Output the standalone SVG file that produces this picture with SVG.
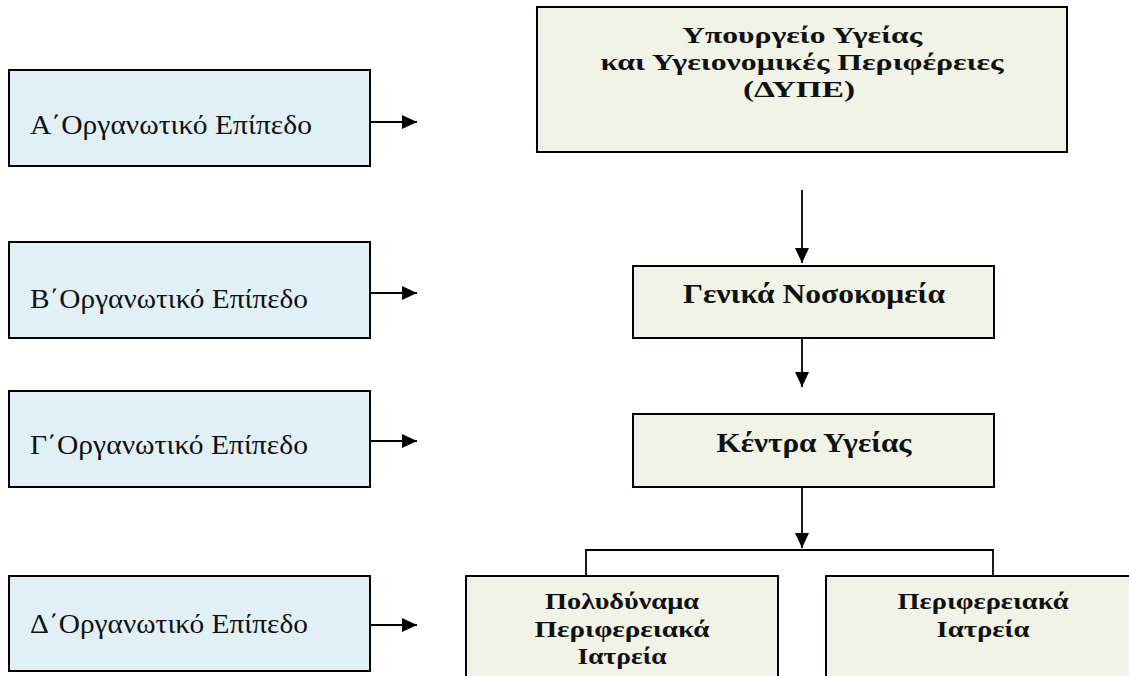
<svg xmlns="http://www.w3.org/2000/svg" width="1129" height="676" viewBox="0 0 1129 676">
<style>
.lvl{fill:#E1F0F6;stroke:#000;stroke-width:2}
.org{fill:#F0F3E6;stroke:#000;stroke-width:2}
.lt{font-family:"Liberation Serif","Times New Roman",serif;font-size:27px;fill:#111}
.bt{font-family:"Liberation Serif","Times New Roman",serif;font-size:28px;font-weight:bold;fill:#111;text-anchor:middle}
.bm{font-family:"Liberation Serif","Times New Roman",serif;font-size:24px;font-weight:bold;fill:#111;text-anchor:middle}
.con{stroke:#000;stroke-width:1.8;fill:none}
</style>
<defs>
<marker id="ah" markerUnits="userSpaceOnUse" markerWidth="16" markerHeight="15" refX="15" refY="7" orient="auto">
<path d="M0,0 L15,7 L0,14 z" fill="#000"/>
</marker>
</defs>
<rect width="1129" height="676" fill="#fff"/>
<g id="level-a"><rect class="lvl" x="9" y="70" width="361" height="96"/><text class="lt" x="30" y="134" textLength="282" lengthAdjust="spacingAndGlyphs">Α΄Οργανωτικό Επίπεδο</text></g>
<g id="level-b"><rect class="lvl" x="9" y="242" width="361" height="96"/><text class="lt" x="30" y="308" textLength="278" lengthAdjust="spacingAndGlyphs">Β΄Οργανωτικό Επίπεδο</text></g>
<g id="level-c"><rect class="lvl" x="9" y="391" width="361" height="96"/><text class="lt" x="30" y="454" textLength="278" lengthAdjust="spacingAndGlyphs">Γ΄Οργανωτικό Επίπεδο</text></g>
<g id="level-d"><rect class="lvl" x="9" y="576" width="361" height="95"/><text class="lt" x="30" y="633" textLength="278" lengthAdjust="spacingAndGlyphs">Δ΄Οργανωτικό Επίπεδο</text></g>
<g id="ministry"><rect class="org" x="537" y="7" width="530" height="145"/>
<text class="bm" x="802" y="43" textLength="240" lengthAdjust="spacingAndGlyphs">Υπουργείο Υγείας</text>
<text class="bm" x="802" y="70" textLength="403" lengthAdjust="spacingAndGlyphs">και Υγειονομικές Περιφέρειες</text>
<text class="bm" x="799" y="97" textLength="112" lengthAdjust="spacingAndGlyphs">(ΔΥΠΕ)</text></g>
<g id="hospitals"><rect class="org" x="633" y="266" width="361" height="72"/>
<text class="bt" x="814" y="303" textLength="262" lengthAdjust="spacingAndGlyphs">Γενικά Νοσοκομεία</text></g>
<g id="health-centres"><rect class="org" x="633" y="414" width="361" height="73"/>
<text class="bt" x="814" y="452" textLength="195" lengthAdjust="spacingAndGlyphs">Κέντρα Υγείας</text></g>
<g id="multi-clinics"><rect class="org" x="466" y="576" width="312" height="110"/>
<text class="bm" x="622" y="609" textLength="154" lengthAdjust="spacingAndGlyphs">Πολυδύναμα</text>
<text class="bm" x="622" y="637" textLength="175" lengthAdjust="spacingAndGlyphs">Περιφερειακά</text>
<text class="bm" x="622" y="664" textLength="89" lengthAdjust="spacingAndGlyphs">Ιατρεία</text></g>
<g id="regional-clinics"><rect class="org" x="826" y="576" width="320" height="110"/>
<text class="bm" x="983" y="609" textLength="171" lengthAdjust="spacingAndGlyphs">Περιφερειακά</text>
<text class="bm" x="983" y="637" textLength="93" lengthAdjust="spacingAndGlyphs">Ιατρεία</text></g>
<g id="connectors">
<line class="con" x1="370" y1="122" x2="417" y2="122" marker-end="url(#ah)"/>
<line class="con" x1="370" y1="293" x2="417" y2="293" marker-end="url(#ah)"/>
<line class="con" x1="370" y1="441" x2="417" y2="441" marker-end="url(#ah)"/>
<line class="con" x1="370" y1="625" x2="417" y2="625" marker-end="url(#ah)"/>
<line class="con" x1="802" y1="190" x2="802" y2="263" marker-end="url(#ah)"/>
<line class="con" x1="802" y1="338" x2="802" y2="387" marker-end="url(#ah)"/>
<line class="con" x1="802" y1="487" x2="802" y2="548" marker-end="url(#ah)"/>
<polyline class="con" points="586,576 586,550 993,550 993,576"/>
</g>
</svg>
